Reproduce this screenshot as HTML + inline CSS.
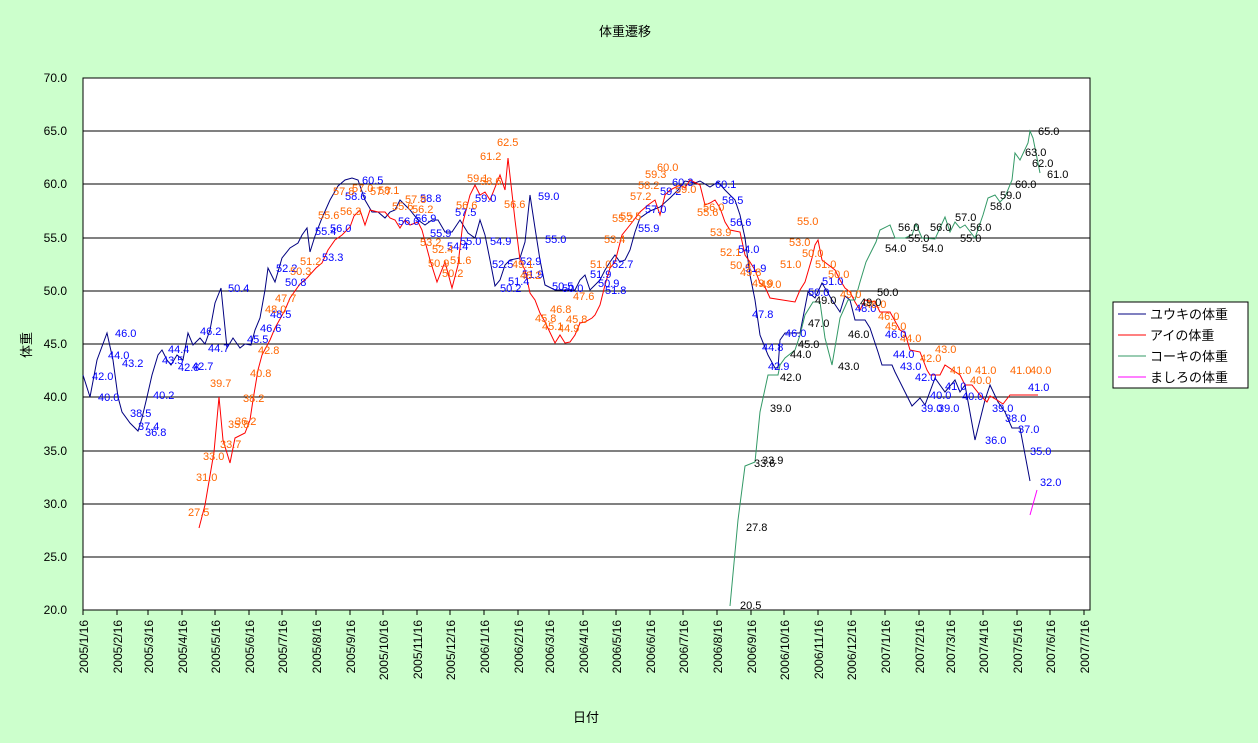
<!DOCTYPE html>
<html><head><meta charset="utf-8"><style>
html,body{margin:0;padding:0;background:#CCFFCC;}
svg{display:block;font-family:"Liberation Sans","Noto Sans CJK JP",sans-serif;}
</style></head><body>
<svg width="1258" height="743" viewBox="0 0 1258 743" xmlns="http://www.w3.org/2000/svg">
<rect x="0" y="0" width="1258" height="743" fill="#CCFFCC"/>
<rect x="83" y="78" width="1007" height="532" fill="#fff" stroke="#000" stroke-width="1"/>
<g stroke="#000" stroke-width="1">
<line x1="83" y1="131" x2="1090" y2="131"/><line x1="83" y1="184" x2="1090" y2="184"/>
<line x1="83" y1="238" x2="1090" y2="238"/><line x1="83" y1="291" x2="1090" y2="291"/>
<line x1="83" y1="344" x2="1090" y2="344"/><line x1="83" y1="397" x2="1090" y2="397"/>
<line x1="83" y1="451" x2="1090" y2="451"/><line x1="83" y1="504" x2="1090" y2="504"/>
<line x1="83" y1="557" x2="1090" y2="557"/>
</g>
<g font-size="12" text-anchor="end" fill="#000">
<text x="67" y="82">70.0</text><text x="67" y="135">65.0</text><text x="67" y="188">60.0</text>
<text x="67" y="242">55.0</text><text x="67" y="295">50.0</text><text x="67" y="348">45.0</text>
<text x="67" y="401">40.0</text><text x="67" y="455">35.0</text><text x="67" y="508">30.0</text>
<text x="67" y="561">25.0</text><text x="67" y="614">20.0</text>
</g>
<g stroke="#000" stroke-width="1" id="ticks">
<line x1="83" y1="610" x2="83" y2="615"/><line x1="117" y1="610" x2="117" y2="615"/><line x1="148" y1="610" x2="148" y2="615"/><line x1="182" y1="610" x2="182" y2="615"/><line x1="215" y1="610" x2="215" y2="615"/><line x1="249" y1="610" x2="249" y2="615"/><line x1="282" y1="610" x2="282" y2="615"/><line x1="316" y1="610" x2="316" y2="615"/><line x1="350" y1="610" x2="350" y2="615"/><line x1="383" y1="610" x2="383" y2="615"/><line x1="417" y1="610" x2="417" y2="615"/><line x1="450" y1="610" x2="450" y2="615"/><line x1="484" y1="610" x2="484" y2="615"/><line x1="518" y1="610" x2="518" y2="615"/><line x1="549" y1="610" x2="549" y2="615"/><line x1="583" y1="610" x2="583" y2="615"/><line x1="616" y1="610" x2="616" y2="615"/><line x1="650" y1="610" x2="650" y2="615"/><line x1="683" y1="610" x2="683" y2="615"/><line x1="717" y1="610" x2="717" y2="615"/><line x1="751" y1="610" x2="751" y2="615"/><line x1="784" y1="610" x2="784" y2="615"/><line x1="818" y1="610" x2="818" y2="615"/><line x1="851" y1="610" x2="851" y2="615"/><line x1="885" y1="610" x2="885" y2="615"/><line x1="919" y1="610" x2="919" y2="615"/><line x1="950" y1="610" x2="950" y2="615"/><line x1="983" y1="610" x2="983" y2="615"/><line x1="1017" y1="610" x2="1017" y2="615"/><line x1="1050" y1="610" x2="1050" y2="615"/><line x1="1084" y1="610" x2="1084" y2="615"/>
</g>
<g font-size="12" text-anchor="end" fill="#000">
<text transform="translate(88,620) rotate(-90)">2005/1/16</text>
<text transform="translate(122,620) rotate(-90)">2005/2/16</text>
<text transform="translate(153,620) rotate(-90)">2005/3/16</text>
<text transform="translate(187,620) rotate(-90)">2005/4/16</text>
<text transform="translate(220,620) rotate(-90)">2005/5/16</text>
<text transform="translate(254,620) rotate(-90)">2005/6/16</text>
<text transform="translate(287,620) rotate(-90)">2005/7/16</text>
<text transform="translate(321,620) rotate(-90)">2005/8/16</text>
<text transform="translate(355,620) rotate(-90)">2005/9/16</text>
<text transform="translate(388,620) rotate(-90)">2005/10/16</text>
<text transform="translate(422,620) rotate(-90)">2005/11/16</text>
<text transform="translate(455,620) rotate(-90)">2005/12/16</text>
<text transform="translate(489,620) rotate(-90)">2006/1/16</text>
<text transform="translate(523,620) rotate(-90)">2006/2/16</text>
<text transform="translate(554,620) rotate(-90)">2006/3/16</text>
<text transform="translate(588,620) rotate(-90)">2006/4/16</text>
<text transform="translate(621,620) rotate(-90)">2006/5/16</text>
<text transform="translate(655,620) rotate(-90)">2006/6/16</text>
<text transform="translate(688,620) rotate(-90)">2006/7/16</text>
<text transform="translate(722,620) rotate(-90)">2006/8/16</text>
<text transform="translate(756,620) rotate(-90)">2006/9/16</text>
<text transform="translate(789,620) rotate(-90)">2006/10/16</text>
<text transform="translate(823,620) rotate(-90)">2006/11/16</text>
<text transform="translate(856,620) rotate(-90)">2006/12/16</text>
<text transform="translate(890,620) rotate(-90)">2007/1/16</text>
<text transform="translate(924,620) rotate(-90)">2007/2/16</text>
<text transform="translate(955,620) rotate(-90)">2007/3/16</text>
<text transform="translate(988,620) rotate(-90)">2007/4/16</text>
<text transform="translate(1022,620) rotate(-90)">2007/5/16</text>
<text transform="translate(1055,620) rotate(-90)">2007/6/16</text>
<text transform="translate(1089,620) rotate(-90)">2007/7/16</text>
</g>
<text x="625" y="36" font-size="13" text-anchor="middle">体重遷移</text>
<text x="586" y="722" font-size="13" text-anchor="middle">日付</text>
<text transform="translate(31,345) rotate(-90)" font-size="13" text-anchor="middle">体重</text>

<polyline fill="none" stroke="#000080" stroke-width="1" points="83,375 90,397 97,360 107,333 113,360 118,397 122,412 130,423 138,431 142,418 147,397 152,375 158,355 162,350 167,360 171,365 177,355 183,360 188,333 193,345 200,338 205,344 210,330 215,303 221,288 227,348 233,338 240,348 245,344 251,345 255,330 260,318 265,290 268,268 275,282 282,258 290,248 298,243 302,235 307,228 310,252 315,236 322,218 330,200 338,186 345,180 352,178 358,180 365,200 372,212 378,212 385,218 390,212 395,210 400,200 410,210 418,220 425,225 432,220 438,220 445,232 452,232 460,220 468,233 475,238 480,220 485,235 490,260 495,286 500,280 505,265 510,260 520,258 525,242 530,195 535,228 540,260 545,285 555,290 565,290 575,290 580,280 585,275 590,290 595,285 600,280 605,270 610,262 615,255 620,262 625,260 630,250 635,232 640,218 650,211 660,207 670,198 678,190 685,181 695,183 700,181 710,187 718,182 725,190 735,200 740,215 745,238 750,275 755,300 760,335 768,355 775,368 778,368 780,340 785,333 795,333 800,333 808,292 815,298 822,283 832,300 840,312 845,296 850,300 855,320 865,320 870,328 878,352 882,365 892,365 895,372 912,406 920,398 925,405 935,378 945,392 955,380 960,392 965,385 975,440 985,400 990,385 998,402 1005,412 1012,428 1020,428 1030,481"/>
<polyline fill="none" stroke="#FF0000" stroke-width="1" points="199,528 205,505 214,452 219,397 223,440 230,463 235,438 245,433 250,420 253,400 258,370 262,355 270,340 275,328 285,310 290,298 300,284 307,278 316,268 322,263 328,250 335,240 342,235 350,227 354,216 360,210 365,225 370,210 378,212 385,212 390,218 395,220 400,228 405,220 410,225 418,222 422,230 430,260 437,282 445,262 452,288 458,265 463,222 470,195 475,185 480,195 485,192 490,200 500,175 505,190 508,158 515,220 520,260 525,270 530,293 535,300 540,313 545,322 555,343 560,335 565,343 570,342 575,335 580,323 585,322 592,318 595,315 600,305 605,285 610,268 615,262 622,235 630,225 640,212 648,205 655,200 660,215 665,195 670,190 680,185 685,188 690,180 700,185 705,205 710,203 715,200 720,208 725,222 730,230 740,232 745,255 750,262 755,270 760,283 765,287 770,298 795,302 800,290 805,282 812,258 815,245 818,240 822,260 835,270 840,280 845,288 850,292 855,302 860,310 865,300 875,302 880,312 890,312 900,330 905,333 910,350 920,352 927,370 930,375 940,375 945,365 960,375 965,385 972,385 980,395 987,402 990,396 997,400 1003,404 1010,395 1038,395"/>
<polyline fill="none" stroke="#339966" stroke-width="1" points="730,606 738,520 745,466 755,462 760,412 768,375 778,375 780,365 785,358 795,350 800,335 805,315 813,302 820,302 825,338 832,365 840,318 848,300 855,300 860,282 866,262 876,242 880,230 890,225 895,238 905,238 912,235 916,224 922,238 935,239 945,217 950,232 955,222 960,228 965,225 975,238 983,215 988,198 995,195 1000,202 1005,197 1012,180 1015,153 1020,160 1028,143 1030,131 1033,138 1035,148 1040,173"/>
<polyline fill="none" stroke="#FF00FF" stroke-width="1" points="1030,515 1037,490"/>

<g font-size="11" fill="#0000FF">
<text x="92" y="380">42.0</text><text x="98" y="401">40.0</text><text x="115" y="337">46.0</text><text x="108" y="359">44.0</text><text x="122" y="367">43.2</text><text x="130" y="417">38.5</text><text x="138" y="430">37.4</text><text x="145" y="436">36.8</text><text x="153" y="399">40.2</text><text x="168" y="353">44.4</text><text x="162" y="364">43.5</text><text x="178" y="371">42.8</text><text x="192" y="370">42.7</text><text x="200" y="335">46.2</text><text x="208" y="352">44.7</text><text x="228" y="292">50.4</text><text x="247" y="343">45.5</text><text x="260" y="332">46.6</text><text x="270" y="318">48.5</text><text x="285" y="286">50.8</text><text x="276" y="272">52.2</text><text x="322" y="261">53.3</text><text x="315" y="235">55.4</text><text x="330" y="232">56.0</text><text x="362" y="184">60.5</text><text x="345" y="200">58.6</text><text x="420" y="202">58.8</text><text x="415" y="222">56.9</text><text x="398" y="225">56.0</text><text x="430" y="237">55.9</text><text x="447" y="250">54.4</text><text x="455" y="216">57.5</text><text x="475" y="202">59.0</text><text x="460" y="245">55.0</text><text x="490" y="245">54.9</text><text x="492" y="268">52.5</text><text x="500" y="292">50.2</text><text x="508" y="285">51.4</text><text x="520" y="265">52.9</text><text x="522" y="278">51.9</text><text x="538" y="200">59.0</text><text x="545" y="243">55.0</text><text x="552" y="290">50.5</text><text x="562" y="292">50.0</text><text x="590" y="278">51.9</text><text x="598" y="287">50.9</text><text x="612" y="268">52.7</text><text x="605" y="294">51.8</text><text x="638" y="232">55.9</text><text x="645" y="213">57.0</text><text x="660" y="195">59.2</text><text x="672" y="186">60.3</text><text x="715" y="188">60.1</text><text x="722" y="204">58.5</text><text x="730" y="226">56.6</text><text x="738" y="253">54.0</text><text x="745" y="272">51.9</text><text x="752" y="318">47.8</text><text x="762" y="351">44.8</text><text x="768" y="370">42.9</text><text x="785" y="337">46.0</text><text x="808" y="296">50.0</text><text x="822" y="285">51.0</text><text x="855" y="312">48.0</text><text x="885" y="338">46.0</text><text x="893" y="358">44.0</text><text x="900" y="370">43.0</text><text x="915" y="381">42.0</text><text x="921" y="412">39.0</text><text x="930" y="399">40.0</text><text x="938" y="412">39.0</text><text x="945" y="390">41.0</text><text x="962" y="400">40.0</text><text x="985" y="444">36.0</text><text x="992" y="412">39.0</text><text x="1005" y="422">38.0</text><text x="1018" y="433">37.0</text><text x="1030" y="455">35.0</text><text x="1040" y="486">32.0</text><text x="1028" y="391">41.0</text>
</g>
<g font-size="11" fill="#FF6600">
<text x="188" y="516">27.5</text><text x="196" y="481">31.0</text><text x="203" y="460">33.0</text><text x="210" y="387">39.7</text><text x="220" y="448">33.7</text><text x="228" y="428">35.8</text><text x="235" y="425">36.2</text><text x="243" y="402">38.2</text><text x="250" y="377">40.8</text><text x="258" y="354">42.8</text><text x="265" y="313">48.0</text><text x="275" y="302">47.7</text><text x="290" y="275">50.3</text><text x="300" y="265">51.2</text><text x="318" y="219">55.6</text><text x="333" y="195">57.8</text><text x="340" y="215">56.3</text><text x="352" y="192">57.0</text><text x="370" y="195">57.7</text><text x="378" y="194">58.1</text><text x="392" y="210">55.6</text><text x="405" y="203">57.8</text><text x="412" y="213">56.2</text><text x="420" y="246">53.2</text><text x="432" y="253">52.4</text><text x="428" y="267">50.9</text><text x="442" y="277">50.2</text><text x="450" y="264">51.6</text><text x="456" y="209">56.6</text><text x="467" y="182">59.1</text><text x="480" y="185">58.6</text><text x="480" y="160">61.2</text><text x="497" y="146">62.5</text><text x="504" y="208">56.6</text><text x="512" y="268">49.1</text><text x="520" y="279">48.2</text><text x="550" y="313">46.8</text><text x="535" y="322">45.8</text><text x="542" y="330">45.1</text><text x="558" y="332">44.9</text><text x="566" y="323">45.8</text><text x="573" y="300">47.6</text><text x="590" y="268">51.0</text><text x="604" y="243">53.4</text><text x="612" y="222">55.2</text><text x="620" y="220">55.5</text><text x="630" y="200">57.2</text><text x="638" y="189">58.2</text><text x="645" y="178">59.3</text><text x="657" y="171">60.0</text><text x="675" y="193">59.0</text><text x="697" y="216">55.6</text><text x="703" y="211">56.0</text><text x="710" y="236">53.9</text><text x="720" y="256">52.1</text><text x="730" y="269">50.4</text><text x="740" y="276">49.8</text><text x="752" y="287">49.9</text><text x="760" y="288">49.0</text><text x="780" y="268">51.0</text><text x="789" y="246">53.0</text><text x="797" y="225">55.0</text><text x="802" y="257">50.0</text><text x="815" y="268">51.0</text><text x="828" y="278">50.0</text><text x="840" y="298">49.0</text><text x="865" y="308">48.0</text><text x="878" y="320">46.0</text><text x="885" y="330">45.0</text><text x="900" y="342">44.0</text><text x="920" y="362">42.0</text><text x="935" y="353">43.0</text><text x="950" y="374">41.0</text><text x="975" y="374">41.0</text><text x="1010" y="374">41.0</text><text x="1030" y="374">40.0</text><text x="970" y="384">40.0</text>
</g>
<g font-size="11" fill="#000">
<text x="740" y="609">20.5</text><text x="746" y="531">27.8</text><text x="754" y="467">33.6</text><text x="762" y="464">33.9</text><text x="770" y="412">39.0</text><text x="780" y="381">42.0</text><text x="790" y="358">44.0</text><text x="798" y="348">45.0</text><text x="808" y="327">47.0</text><text x="815" y="304">49.0</text><text x="838" y="370">43.0</text><text x="848" y="338">46.0</text><text x="860" y="306">49.0</text><text x="877" y="296">50.0</text><text x="885" y="252">54.0</text><text x="898" y="231">56.0</text><text x="908" y="242">55.0</text><text x="922" y="252">54.0</text><text x="930" y="231">56.0</text><text x="955" y="221">57.0</text><text x="970" y="231">56.0</text><text x="960" y="242">55.0</text><text x="990" y="210">58.0</text><text x="1000" y="199">59.0</text><text x="1015" y="188">60.0</text><text x="1025" y="156">63.0</text><text x="1032" y="167">62.0</text><text x="1047" y="178">61.0</text><text x="1038" y="135">65.0</text>
</g>

<rect x="1113" y="302" width="135" height="86" fill="#fff" stroke="#000"/>
<g font-size="13">
<line x1="1118" y1="314" x2="1146" y2="314" stroke="#000080"/><text x="1150" y="319">ユウキの体重</text>
<line x1="1118" y1="335" x2="1146" y2="335" stroke="#FF0000"/><text x="1150" y="340">アイの体重</text>
<line x1="1118" y1="356" x2="1146" y2="356" stroke="#339966"/><text x="1150" y="361">コーキの体重</text>
<line x1="1118" y1="377" x2="1146" y2="377" stroke="#FF00FF"/><text x="1150" y="382">ましろの体重</text>
</g>
</svg>
</body></html>
